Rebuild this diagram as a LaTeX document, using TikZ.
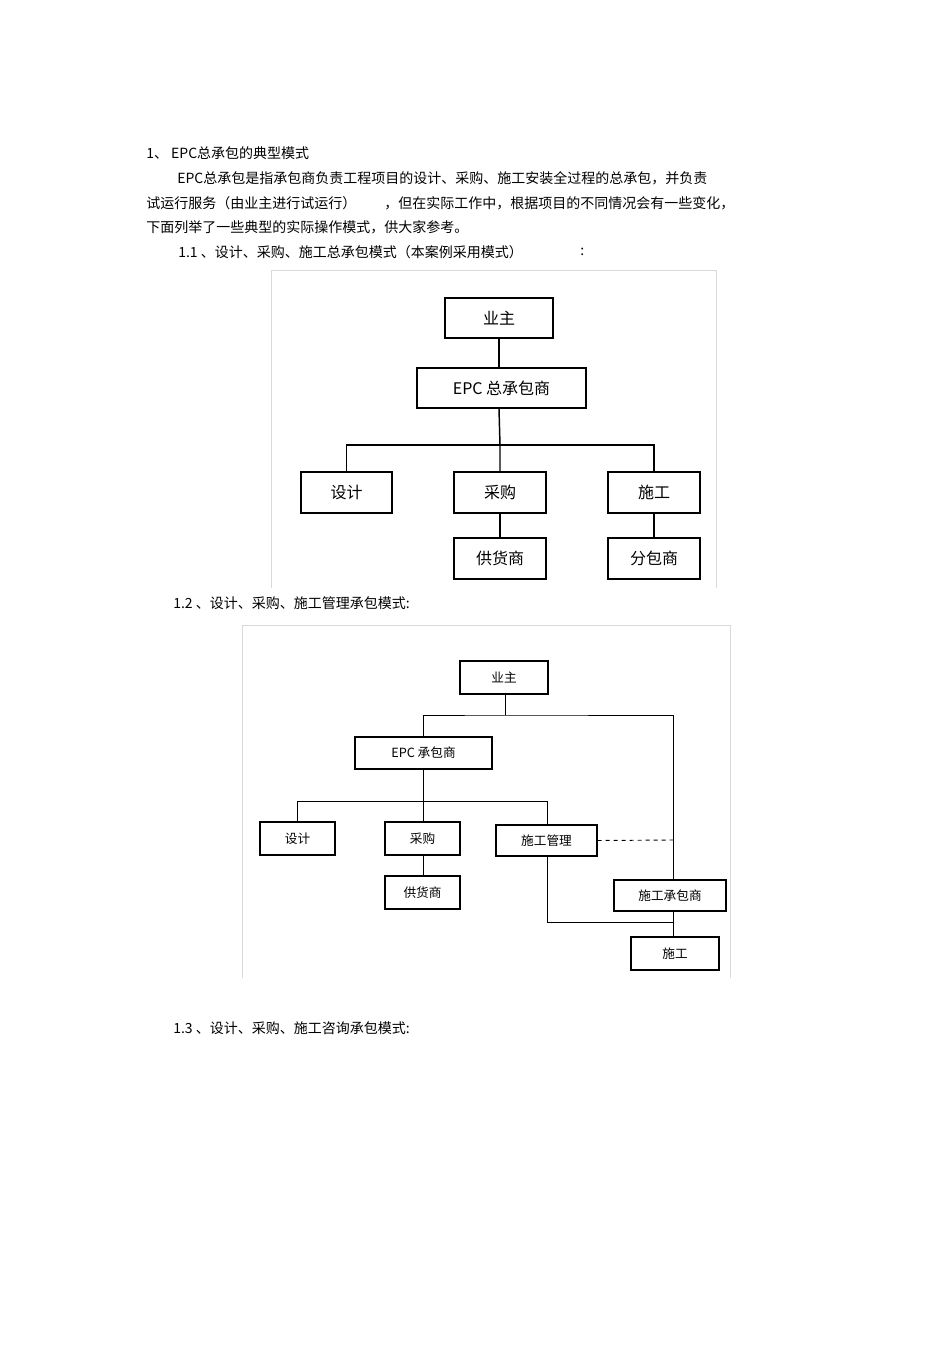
\documentclass[tikz,border=0pt]{standalone}
\usepackage{fontspec}
\setmainfont{Noto Sans CJK SC}
\begin{document}
\begin{tikzpicture}[x=0.75pt,y=-0.75pt,
 txt/.style={anchor=west,inner sep=0pt,font=\fontsize{10.5pt}{12pt}\selectfont},
 ba/.style={draw,line width=1.4pt,inner sep=0pt,font=\fontsize{12pt}{14pt}\selectfont},
 bb/.style={draw,line width=0.9pt,inner sep=0pt,font=\fontsize{9.5pt}{11pt}\selectfont},
 ln/.style={line width=1.1pt},
 lm/.style={line width=0.7pt}]
\useasboundingbox (0,0) rectangle (950,1345);
\fill[white] (0,0) rectangle (950,1345);
\node[txt] (t1) at (146,153) {1、 EPC总承包的典型模式};
\node[txt] (t2) at (177,178) {EPC总承包是指承包商负责工程项目的设计、采购、施工安装全过程的总承包，并负责};
\node[txt] (t3) at (146,203) {试运行服务（由业主进行试运行）\hspace{2em}，但在实际工作中，根据项目的不同情况会有一些变化，};
\node[txt] (t4) at (146,227) {下面列举了一些典型的实际操作模式，供大家参考。};
\node[txt] (t5) at (178,252) {1.1 、设计、采购、施工总承包模式（本案例采用模式）};
\node[txt] (t5c) at (580,252) {:};
\node[txt] (t6) at (173,603) {1.2 、设计、采购、施工管理承包模式:};
\node[txt] (t7) at (173,1028) {1.3 、设计、采购、施工咨询承包模式:};
% diagram 1
\draw[gray!30] (271,270) -- (716,270) -- (716,588);
\draw[gray!30] (271,270) -- (271,588);
\node[ba,minimum width=108pt*0.75,minimum height=40pt*0.75] (o1) at (499,318) {业主};
\node[ba,minimum width=169pt*0.75,minimum height=40pt*0.75] (e1) at (501.5,388) {EPC 总承包商};
\node[ba,minimum width=91pt*0.75,minimum height=41pt*0.75] (d1) at (346.5,492.5) {设计};
\node[ba,minimum width=92pt*0.75,minimum height=41pt*0.75] (p1) at (500,492.5) {采购};
\node[ba,minimum width=92pt*0.75,minimum height=41pt*0.75] (c1) at (654,492.5) {施工};
\node[ba,minimum width=92pt*0.75,minimum height=41pt*0.75] (s1) at (500,558.5) {供货商};
\node[ba,minimum width=92pt*0.75,minimum height=41pt*0.75] (f1) at (654,558.5) {分包商};
\coordinate (h1) at (500,445);
\draw[ln] (o1.south) -- (o1.south|-e1.north);
\draw[ln] (e1.south-|o1) -- (h1) -- (p1.north);
\draw[ln] (d1.north) |- (h1) -| (c1.north);
\draw[ln] (p1) -- (s1);
\draw[ln] (c1) -- (f1);
% diagram 2
\draw[gray!30] (242,978) -- (242,625) -- (730,625) -- (730,978);
\node[bb,minimum width=88pt*0.75,minimum height=33pt*0.75] (o2) at (504,677.5) {业主};
\node[bb,minimum width=137pt*0.75,minimum height=32pt*0.75] (e2) at (423.5,753) {EPC 承包商};
\node[bb,minimum width=75pt*0.75,minimum height=33pt*0.75] (d2) at (297.5,838.5) {设计};
\node[bb,minimum width=75pt*0.75,minimum height=33pt*0.75] (p2) at (422.5,838.5) {采购};
\node[bb,minimum width=101pt*0.75,minimum height=31pt*0.75] (m2) at (546.5,840.5) {施工管理};
\node[bb,minimum width=75pt*0.75,minimum height=33pt*0.75] (s2) at (422.5,892.5) {供货商};
\node[bb,minimum width=112pt*0.75,minimum height=31pt*0.75] (k2) at (670,895.5) {施工承包商};
\node[bb,minimum width=88pt*0.75,minimum height=33pt*0.75] (w2) at (675,953.5) {施工};
\coordinate (j1) at (505,715);
\coordinate (j2) at (423,801);
\coordinate (j3) at (673,840);
\coordinate (j4) at (673,922);
\draw[lm] (o2.south-|j1) -- (j1);
\draw[lm] (e2.north-|j2) |- (j1) -| (k2.north-|j3);
\draw[lm] (e2.south-|j2) -- (p2.north-|j2);
\draw[lm] (d2.north) |- (j2) -| (m2.north-|547,0);
\draw[lm] (p2.south-|j2) -- (s2.north-|j2);
\draw[lm,dashed] (m2.east) -- (j3);
\draw[lm] (m2.south-|547,0) |- (j4);
\draw[lm] (k2.south-|j3) -- (w2.north-|j3);
\end{tikzpicture}
\end{document}
